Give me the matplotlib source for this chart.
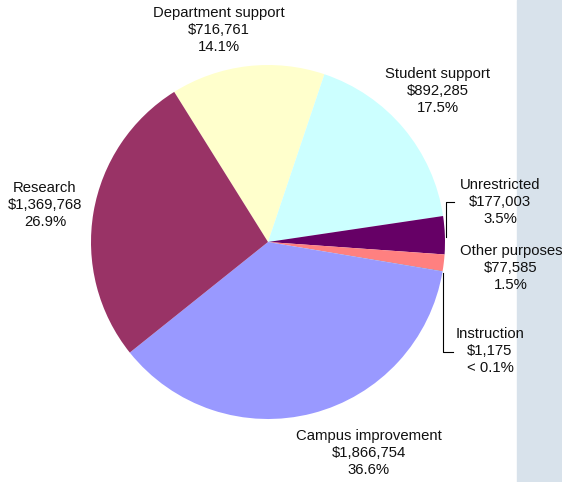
import matplotlib.pyplot as plt
from matplotlib.patches import Rectangle

plt.rcParams['font.family'] = ['Liberation Sans', 'DejaVu Sans']

# data (clockwise from the top-left boundary)
categories = ['Department support', 'Student support', 'Unrestricted',
              'Other purposes', 'Instruction', 'Campus improvement', 'Research']
amounts = [716761, 892285, 177003, 77585, 1175, 1866754, 1369768]
pct_labels = ['14.1%', '17.5%', '3.5%', '1.5%', '< 0.1%', '36.6%', '26.9%']
colors = ['#FFFFCC', '#CCFFFF', '#660066', '#FF8080', '#0066CC', '#9999FF', '#993366']

# label centres in pixels (x, y from top)
label_pos = [(219, 30), (438, 91), (500, 202), (511, 268), (490, 351),
             (369, 453), (45, 205)]

W, H = 562, 482
cx, cy, R = 268, 242, 177

fig = plt.figure(figsize=(W / 100, H / 100), dpi=100)
ax = fig.add_axes([0, 0, 1, 1])


def px(x, y):
    return (x - cx) / R, (cy - y) / R


ax.pie(amounts, colors=colors, startangle=122, counterclock=False,
       wedgeprops=dict(linewidth=0))

# grey strip on the right
x0, y0 = px(517, H)
ax.add_patch(Rectangle((x0, y0), (W - 517) / R, H / R, color='#D8E2EB', zorder=0))

for name, val, pct, (lx, ly) in zip(categories, amounts, pct_labels, label_pos):
    tx, ty = px(lx, ly)
    ax.text(tx, ty, f'{name}\n${val:,}\n{pct}', ha='center', va='center',
            fontsize=10.7, linespacing=1.27, color='#111111', zorder=5)

# leader lines
for pts in ([(454, 202), (446, 202), (446, 237)],
            [(453, 352), (443, 352), (443, 273)]):
    xs, ys = zip(*[px(a, b) for a, b in pts])
    ax.plot(xs, ys, color='black', lw=0.8)

ax.set_xlim(-cx / R, (W - cx) / R)
ax.set_ylim(-(H - cy) / R, cy / R)
ax.set_aspect('equal')
ax.axis('off')

fig.savefig('out.png', dpi=100)
